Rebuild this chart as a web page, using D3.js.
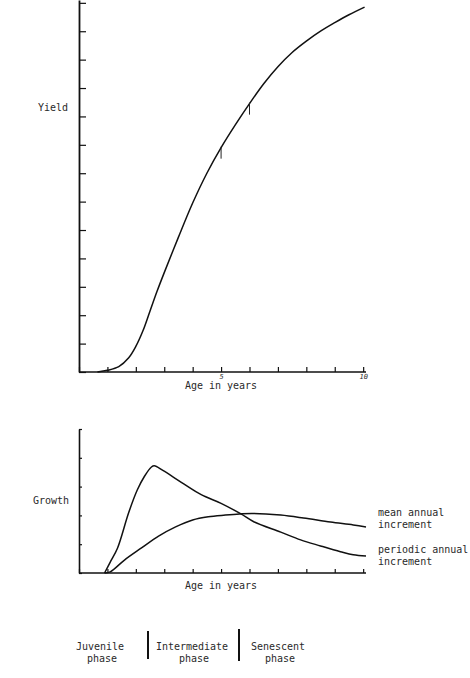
<!DOCTYPE html>
<html><head><meta charset="utf-8">
<script src="https://cdn.jsdelivr.net/npm/d3@7/dist/d3.min.js"></script>
<style>
html,body{margin:0;padding:0;background:#fff;}
text{font-family:"DejaVu Sans Mono",monospace;fill:#2a2a2a;}
</style></head>
<body>
<svg id="c" width="470" height="678"></svg>
<script>
// ---- data ----
const xTickValues = [0,1,2,3,4,5,6,7,8,9,10];
const xTickLabels = {5:"5", 10:"10"};
const yieldTicks = [0,1,2,3,4,5,6,7,8,9,10,11,12,13];
const growthTicks = [0,1,2,3,4,5];

const yieldYears = [0.65,1.0,1.4,1.75,2.0,2.25,2.5,2.75,3.0,3.5,4.0,4.5,5.0,5.5,6.0,6.5,7.0,7.5,8.0,8.5,9.0,9.5,10.05];
const yieldValues = [0,0.06,0.19,0.5,0.9,1.45,2.15,2.85,3.5,4.75,5.95,7.0,7.9,8.7,9.45,10.15,10.75,11.25,11.65,12.0,12.3,12.58,12.85];
const yieldMarks = [5,6];

const paiYears = [0.9,1.1,1.35,1.75,2.05,2.3,2.55,2.65,2.95,3.6,4.3,5.0,5.7,6.15,7.1,7.8,8.5,9.2,9.65,10.1];
const paiValues = [0,0.38,0.85,2.1,2.88,3.35,3.68,3.72,3.56,3.15,2.72,2.42,2.05,1.78,1.42,1.15,0.94,0.74,0.63,0.59];

const maiYears = [0.9,1.1,1.6,2.2,2.8,3.4,4.0,4.55,5.15,5.65,6.1,7.1,7.9,8.85,9.65,10.1];
const maiValues = [0,0.04,0.45,0.87,1.28,1.6,1.84,1.95,2.01,2.05,2.07,2.01,1.91,1.77,1.67,1.6];

const phases = [["Juvenile","phase"],["Intermediate","phase"],["Senescent","phase"]];

// ---- drawing ----
const svg = d3.select("#c");
const x = d3.scaleLinear().domain([0,10.1]).range([79,366]);
const yTop = d3.scaleLinear().domain([0,13.1]).range([372,0]);
const yBot = d3.scaleLinear().domain([0,5]).range([573,429]);

function styleAxis(g, w){
  g.selectAll(".domain").attr("stroke","#111").attr("stroke-width",w);
  g.selectAll(".tick line").attr("stroke","#111").attr("stroke-width",1.2);
}

// top chart
const gxTop = svg.append("g").attr("transform","translate(0,372)")
  .call(d3.axisBottom(x).tickValues(xTickValues).tickSize(-5).tickSizeOuter(0)
    .tickFormat(d => xTickLabels[d] || "").tickPadding(2));
styleAxis(gxTop,1.6);
gxTop.selectAll(".tick text").attr("font-size",7).attr("font-style","italic").attr("dy","0.9em")
  .style("font-family","DejaVu Sans Mono").attr("fill","#444").attr("y",1);
gxTop.select(".domain").attr("d",`M${x(0)},0H${x(10.1)}`);

const gyTop = svg.append("g").attr("transform","translate(79,0)")
  .call(d3.axisLeft(yTop).tickValues(yieldTicks).tickSize(-7).tickSizeOuter(0).tickFormat(""));
styleAxis(gyTop,1.8);

const line = (ys) => d3.line().x(d=>x(d[0])).y(d=>ys(d[1])).curve(d3.curveCatmullRom.alpha(0.5));

svg.append("path").datum(yieldYears.map((v,i)=>[v,yieldValues[i]]))
  .attr("d", line(yTop)).attr("fill","none").attr("stroke","#111").attr("stroke-width",1.5);

// small hand marks on yield curve
const yieldInterp = d3.scaleLinear().domain(yieldYears).range(yieldValues);
svg.selectAll("line.mk").data(yieldMarks).join("line")
  .attr("x1",d=>x(d)).attr("x2",d=>x(d))
  .attr("y1",d=>yTop(yieldInterp(d))-1).attr("y2",d=>yTop(yieldInterp(d))+11)
  .attr("stroke","#222").attr("stroke-width",1);

svg.append("text").attr("x",38).attr("y",111).attr("font-size",10).text("Yield");
svg.append("text").attr("x",221).attr("y",389).attr("font-size",10).attr("text-anchor","middle").text("Age in years");

// bottom chart
const gxBot = svg.append("g").attr("transform","translate(0,573)")
  .call(d3.axisBottom(x).tickValues(xTickValues).tickSize(-4).tickSizeOuter(0).tickFormat(""));
styleAxis(gxBot,1.6);
gxBot.select(".domain").attr("d",`M${x(0)},0H${x(10.1)}`);

const gyBot = svg.append("g").attr("transform","translate(79,0)")
  .call(d3.axisLeft(yBot).tickValues(growthTicks).tickSize(-3).tickSizeOuter(0).tickFormat(""));
styleAxis(gyBot,1.6);

svg.append("path").datum(paiYears.map((v,i)=>[v,paiValues[i]]))
  .attr("d", line(yBot)).attr("fill","none").attr("stroke","#111").attr("stroke-width",1.5);
svg.append("path").datum(maiYears.map((v,i)=>[v,maiValues[i]]))
  .attr("d", line(yBot)).attr("fill","none").attr("stroke","#111").attr("stroke-width",1.5);

svg.append("text").attr("x",33).attr("y",504).attr("font-size",10).text("Growth");
svg.append("text").attr("x",221).attr("y",589).attr("font-size",10).attr("text-anchor","middle").text("Age in years");

const legend = [["mean annual","increment",516],["periodic annual","increment",553]];
legend.forEach(l=>{
  svg.append("text").attr("x",378).attr("y",l[2]).attr("font-size",10).text(l[0]);
  svg.append("text").attr("x",378).attr("y",l[2]+12).attr("font-size",10).text(l[1]);
});

// phases
const phaseX = [100,192,278];
phases.forEach((p,i)=>{
  svg.append("text").attr("x",phaseX[i]).attr("y",650).attr("font-size",10).attr("text-anchor","middle").text(p[0]);
  svg.append("text").attr("x",phaseX[i]+2).attr("y",662).attr("font-size",10).attr("text-anchor","middle").text(p[1]);
});
[[148,631,659],[239,629,661]].forEach(b=>{
  svg.append("line").attr("x1",b[0]).attr("x2",b[0]).attr("y1",b[1]).attr("y2",b[2])
    .attr("stroke","#111").attr("stroke-width",2);
});
</script>
</body></html>
